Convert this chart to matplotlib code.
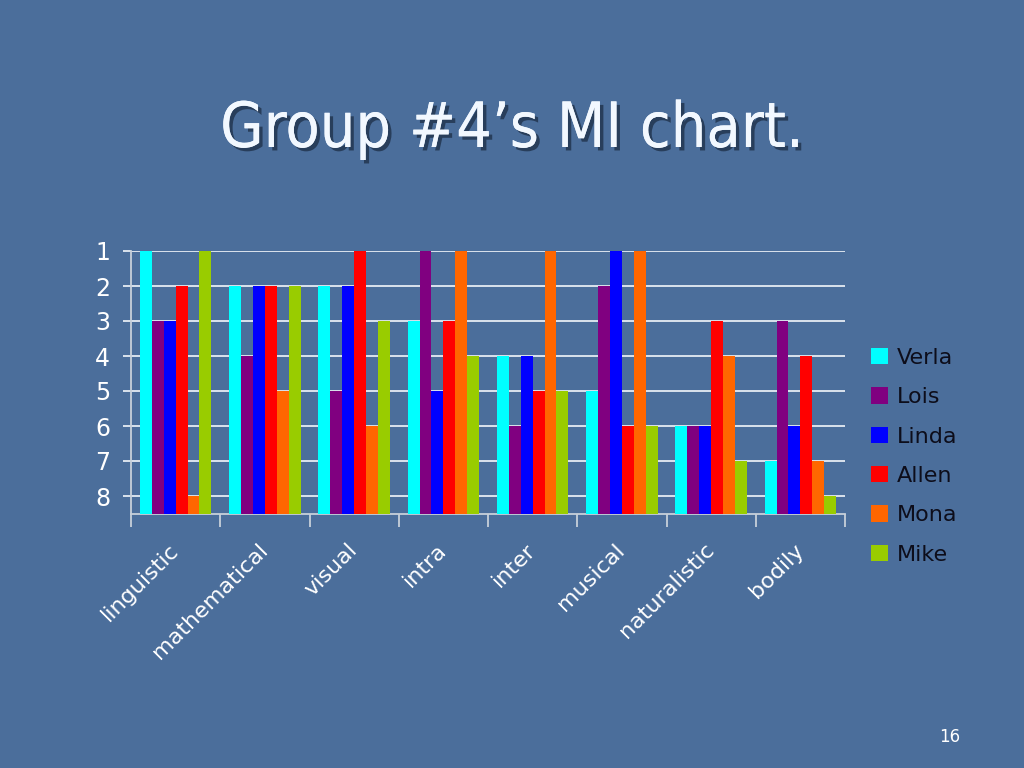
import numpy as np
import matplotlib
matplotlib.use('Agg')
import matplotlib.pyplot as plt
import matplotlib.patheffects as pe
from matplotlib.patches import Patch

categories = ['linguistic', 'mathematical', 'visual', 'intra', 'inter',
              'musical', 'naturalistic', 'bodily']
people = ['Verla', 'Lois', 'Linda', 'Allen', 'Mona', 'Mike']
verla = [1, 2, 2, 3, 4, 5, 6, 7]
lois = [3, 4, 5, 1, 6, 2, 6, 3]
linda = [3, 2, 2, 5, 4, 1, 6, 6]
allen = [2, 2, 1, 3, 5, 6, 3, 4]
mona = [8, 5, 6, 1, 1, 1, 4, 7]
mike = [1, 2, 3, 4, 5, 6, 7, 8]
ranks = [1, 2, 3, 4, 5, 6, 7, 8]

colors = ['#00ffff', '#800080', '#0000ff', '#ff0000', '#ff6600', '#99cc00']
bg = '#4b6e9b'
grid_col = '#e6ecf3'

fig = plt.figure(figsize=(10.24, 7.68), dpi=100, facecolor=bg)
ax = fig.add_axes([131 / 1024, 1 - 513.5 / 768, 714 / 1024, 262.5 / 768])
ax.set_facecolor('none')

base = 8.5
x = np.arange(len(categories))
w = 0.8 / len(people)
series = [verla, lois, linda, allen, mona, mike]
for i, (name, vals) in enumerate(zip(people, series)):
    v = np.array(vals, dtype=float)
    ax.bar(x - 0.4 + w * (i + 0.5), v - base, bottom=base, width=w,
           color=colors[i], zorder=3, label=name)

ax.set_xlim(-0.5, len(categories) - 0.5)
ax.set_ylim(base, 1)
ax.set_yticks(ranks)
ax.set_yticklabels([str(r) for r in ranks], color='white', fontsize=17,
                   family='DejaVu Sans')
ax.yaxis.grid(True, color=grid_col, linewidth=1.3, zorder=1)
ax.tick_params(axis='y', length=6, width=1.3, color=grid_col, pad=9)

ax.set_xticks(x)
ax.set_xticklabels(categories, rotation=45, ha='right', va='center',
                   rotation_mode='anchor', color='white', fontsize=16,
                   family='DejaVu Sans')
ax.tick_params(axis='x', length=0, pad=24)
ax.set_xticks(np.arange(len(categories) + 1) - 0.5, minor=True)
ax.tick_params(axis='x', which='minor', length=9, width=1.3, color='#c8d0da')

for s in ['top', 'right']:
    ax.spines[s].set_visible(False)
ax.spines['left'].set_color('#c8d0da')
ax.spines['left'].set_linewidth(1.3)
ax.spines['bottom'].set_color('#c8d0da')
ax.spines['bottom'].set_linewidth(1.3)

handles = [Patch(facecolor=c, edgecolor='none') for c in colors]
fig.legend(handles, people, loc='upper left',
           bbox_to_anchor=(851 / 1024, 1 - 328 / 768), frameon=False,
           handlelength=0.75, handleheight=0.75,
           handletextpad=0.4, labelspacing=0.87, labelcolor='#0d0d1a',
           prop={'family': 'DejaVu Sans', 'size': 16})

fig.text(0.5, 1 - 147 / 768, 'Group #4\u2019s MI chart.', ha='center',
         va='baseline', fontsize=45, fontstretch='condensed',
         color='#f2f8ff', family='DejaVu Sans',
         path_effects=[pe.withSimplePatchShadow(offset=(2.5, -2.5),
                                                shadow_rgbFace='#1a2a40',
                                                alpha=0.7),
                       pe.Normal()])

fig.text(950 / 1024, 1 - 737 / 768, '16', ha='center', va='center',
         fontsize=12, color='white', family='DejaVu Sans')

fig.savefig('out.png', dpi=100, facecolor=bg)
